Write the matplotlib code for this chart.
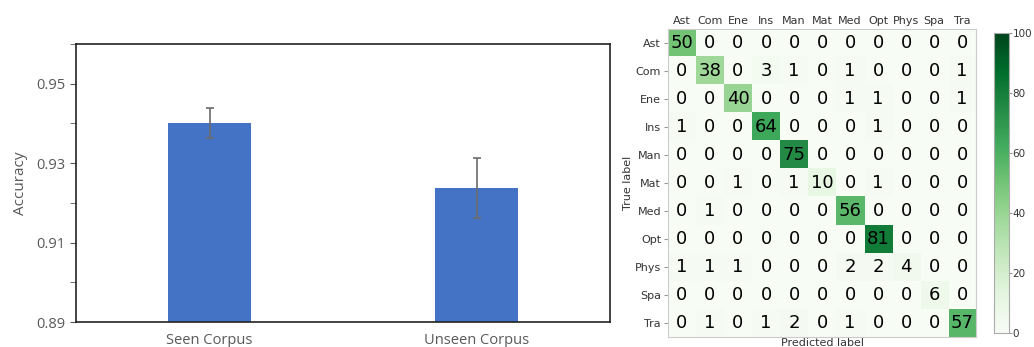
import numpy as np
import matplotlib.pyplot as plt
from matplotlib.ticker import MultipleLocator

# bar chart data
corpora = ['Seen Corpus', 'Unseen Corpus']
accuracy = [0.9401, 0.9237]
acc_err = [0.0037, 0.0075]

# confusion matrix data
classes = ['Ast', 'Com', 'Ene', 'Ins', 'Man', 'Mat', 'Med', 'Opt', 'Phys', 'Spa', 'Tra']
cm = np.array([
    [50, 0, 0, 0, 0, 0, 0, 0, 0, 0, 0],
    [0, 38, 0, 3, 1, 0, 1, 0, 0, 0, 1],
    [0, 0, 40, 0, 0, 0, 1, 1, 0, 0, 1],
    [1, 0, 0, 64, 0, 0, 0, 1, 0, 0, 0],
    [0, 0, 0, 0, 75, 0, 0, 0, 0, 0, 0],
    [0, 0, 1, 0, 1, 10, 0, 1, 0, 0, 0],
    [0, 1, 0, 0, 0, 0, 56, 0, 0, 0, 0],
    [0, 0, 0, 0, 0, 0, 0, 81, 0, 0, 0],
    [1, 1, 1, 0, 0, 0, 2, 2, 4, 0, 0],
    [0, 0, 0, 0, 0, 0, 0, 0, 0, 6, 0],
    [0, 1, 0, 1, 2, 0, 1, 0, 0, 0, 57],
])

fig = plt.figure(figsize=(10.34, 3.47), dpi=100)

# --- left: accuracy bars ---
grey = '#595959'
ax = fig.add_axes([0.0735, 0.072, 0.5165, 0.801])
ax.bar(range(len(corpora)), accuracy, width=0.31, color='#4472C4',
       yerr=acc_err, capsize=3, error_kw=dict(ecolor='#6b6b6b', elinewidth=1.2, capthick=1.2))
ax.set_xlim(-0.5, 1.5)
ax.set_ylim(0.89, 0.96)
ax.set_yticks([0.89, 0.91, 0.93, 0.95])
ax.yaxis.set_minor_locator(MultipleLocator(0.01))
ax.set_xticks(range(len(corpora)))
ax.set_xticklabels(corpora, fontsize=10.5, color=grey, family='Open Sans')
for lbl in ax.get_yticklabels():
    lbl.set_fontsize(10.5)
    lbl.set_color(grey)
    lbl.set_family('Open Sans')
ax.tick_params(axis='x', length=0, pad=8)
ax.tick_params(axis='y', which='both', length=4, color=grey)
ax.set_ylabel('Accuracy', fontsize=11, color=grey, family='Open Sans', labelpad=6)
for s in ax.spines.values():
    s.set_color('#222222')
    s.set_linewidth(1.2)

# --- right: confusion matrix ---
hx = fig.add_axes([0.646, 0.029, 0.298, 0.888])
im = hx.imshow(cm, cmap='Greens', vmin=0, vmax=100, aspect='auto')
for i in range(cm.shape[0]):
    for j in range(cm.shape[1]):
        hx.text(j, i, str(cm[i, j]), ha='center', va='center', fontsize=13, color='black')
hx.set_xticks(range(len(classes)))
hx.set_yticks(range(len(classes)))
hx.set_xticklabels(classes, fontsize=8, color='#333333')
hx.set_yticklabels(classes, fontsize=8, color='#333333')
hx.xaxis.tick_top()
hx.tick_params(axis='x', length=0, pad=2)
hx.tick_params(axis='y', length=3, pad=2, color='#999999')
hx.set_xlabel('Predicted label', fontsize=8, color='#333333', labelpad=1)
hx.xaxis.set_label_position('bottom')
hx.set_ylabel('True label', fontsize=8, color='#333333', labelpad=1)
for s in hx.spines.values():
    s.set_color('#cccccc')

cax = fig.add_axes([0.9615, 0.040, 0.0145, 0.865])
cb = fig.colorbar(im, cax=cax, ticks=[0, 20, 40, 60, 80, 100])
cb.ax.tick_params(labelsize=7.5, labelcolor='#333333', length=2, color='#999999', pad=0.5)
cb.outline.set_edgecolor('#aaaaaa')

fig.savefig('out.png', dpi=100)
